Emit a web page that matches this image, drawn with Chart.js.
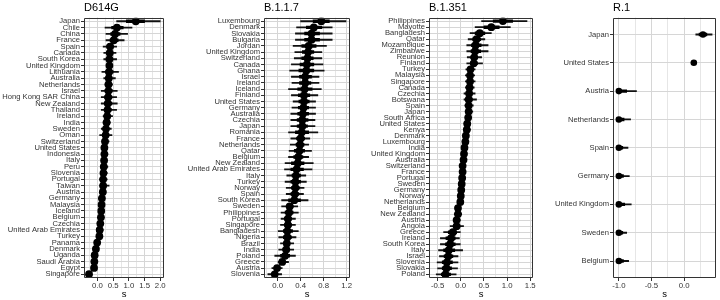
<!DOCTYPE html>
<html>
<head>
<meta charset="utf-8">
<script src="https://cdn.jsdelivr.net/npm/chart.js@4.4.1/dist/chart.umd.min.js"></script>
<style>
  html, body { margin: 0; padding: 0; background: #fff; }
  #wrap { position: relative; width: 720px; height: 300px; overflow: hidden; }
  canvas { position: absolute; top: 0; }
</style>
</head>
<body>
<div id="wrap">
  <canvas id="d614g" width="168" height="300" style="left:0px"></canvas>
  <canvas id="b117" width="186" height="300" style="left:168px"></canvas>
  <canvas id="b1351" width="183" height="300" style="left:354px"></canvas>
  <canvas id="r1" width="183" height="300" style="left:537px"></canvas>
</div>
<script>
// D614G
const d614gCountries = ['Japan', 'Chile', 'China', 'France', 'Spain', 'Canada', 'South Korea', 'United Kingdom', 'Lithuania', 'Australia', 'Netherlands', 'Israel', 'Hong Kong SAR China', 'New Zealand', 'Thailand', 'Ireland', 'India', 'Sweden', 'Oman', 'Switzerland', 'United States', 'Indonesia', 'Italy', 'Peru', 'Slovenia', 'Portugal', 'Taiwan', 'Austria', 'Germany', 'Malaysia', 'Iceland', 'Belgium', 'Czechia', 'United Arab Emirates', 'Turkey', 'Panama', 'Denmark', 'Uganda', 'Saudi Arabia', 'Egypt', 'Singapore'];
const d614gEst = [1.22, 0.62, 0.56, 0.52, 0.40, 0.39, 0.38, 0.38, 0.37, 0.36, 0.35, 0.35, 0.34, 0.33, 0.32, 0.31, 0.29, 0.27, 0.26, 0.24, 0.22, 0.22, 0.21, 0.20, 0.19, 0.18, 0.18, 0.17, 0.14, 0.13, 0.12, 0.11, 0.09, 0.07, 0.06, -0.01, -0.05, -0.09, -0.10, -0.11, -0.27];
const d614gLo = [0.61, 0.24, 0.27, 0.27, 0.18, 0.20, 0.20, 0.29, 0.14, 0.20, 0.24, 0.12, 0.12, 0.12, 0.12, 0.18, 0.18, 0.12, 0.07, 0.14, 0.16, 0.12, 0.14, 0.10, 0.10, 0.07, 0.07, 0.07, 0.07, 0.05, 0.03, 0.03, 0.01, -0.01, -0.01, -0.10, -0.12, -0.16, -0.16, -0.16, -0.33];
const d614gHi = [2.00, 1.10, 0.96, 0.85, 0.61, 0.59, 0.61, 0.48, 0.67, 0.57, 0.48, 0.63, 0.61, 0.63, 0.61, 0.48, 0.41, 0.44, 0.46, 0.37, 0.29, 0.33, 0.31, 0.33, 0.31, 0.31, 0.37, 0.27, 0.20, 0.22, 0.20, 0.18, 0.16, 0.18, 0.16, 0.07, 0.03, -0.01, -0.03, -0.03, -0.20];
const d614gLoIn = [0.92, 0.45, 0.42, 0.40, 0.30, 0.30, 0.29, 0.34, 0.26, 0.28, 0.30, 0.24, 0.23, 0.22, 0.22, 0.25, 0.24, 0.20, 0.17, 0.19, 0.19, 0.17, 0.17, 0.15, 0.14, 0.13, 0.12, 0.12, 0.11, 0.09, 0.08, 0.07, 0.05, 0.03, 0.02, -0.05, -0.09, -0.12, -0.13, -0.14, -0.30];
const d614gHiIn = [1.50, 0.82, 0.72, 0.66, 0.50, 0.48, 0.48, 0.42, 0.50, 0.45, 0.41, 0.47, 0.46, 0.46, 0.44, 0.38, 0.35, 0.35, 0.36, 0.30, 0.25, 0.27, 0.25, 0.26, 0.24, 0.24, 0.26, 0.22, 0.17, 0.17, 0.16, 0.15, 0.13, 0.12, 0.11, 0.03, -0.01, -0.05, -0.07, -0.07, -0.24];
const d614gTicks = [0, 0.5, 1, 1.5, 2];

// B.1.1.7
const b117Countries = ['Luxembourg', 'Denmark', 'Slovakia', 'Bulgaria', 'Jordan', 'United Kingdom', 'Switzerland', 'Canada', 'Ghana', 'Israel', 'Ireland', 'Iceland', 'Finland', 'United States', 'Germany', 'Australia', 'Czechia', 'Japan', 'Romania', 'France', 'Netherlands', 'Qatar', 'Belgium', 'New Zealand', 'United Arab Emirates', 'Italy', 'Turkey', 'Norway', 'Spain', 'South Korea', 'Sweden', 'Philippines', 'Portugal', 'Singapore', 'Bangladesh', 'Nigeria', 'Brazil', 'India', 'Poland', 'Greece', 'Austria', 'Slovenia'];
const b117Est = [0.76, 0.63, 0.59, 0.59, 0.54, 0.53, 0.52, 0.51, 0.50, 0.48, 0.48, 0.47, 0.46, 0.46, 0.45, 0.44, 0.43, 0.43, 0.42, 0.40, 0.39, 0.38, 0.36, 0.35, 0.33, 0.32, 0.31, 0.31, 0.30, 0.29, 0.21, 0.20, 0.18, 0.18, 0.17, 0.17, 0.16, 0.15, 0.13, 0.08, -0.01, -0.05];
const b117Lo = [0.40, 0.33, 0.31, 0.31, 0.27, 0.30, 0.29, 0.24, 0.21, 0.24, 0.25, 0.19, 0.24, 0.27, 0.25, 0.23, 0.23, 0.23, 0.19, 0.23, 0.22, 0.20, 0.19, 0.13, 0.12, 0.16, 0.13, 0.15, 0.15, 0.07, 0.07, 0.06, 0.06, 0.05, 0.01, 0.02, 0.05, 0.02, -0.05, 0.00, -0.10, -0.17];
const b117Hi = [1.19, 0.95, 0.95, 0.95, 0.85, 0.77, 0.77, 0.79, 0.81, 0.72, 0.72, 0.76, 0.70, 0.66, 0.66, 0.66, 0.65, 0.65, 0.70, 0.56, 0.54, 0.59, 0.54, 0.62, 0.60, 0.49, 0.50, 0.46, 0.45, 0.53, 0.35, 0.36, 0.31, 0.31, 0.36, 0.32, 0.28, 0.28, 0.31, 0.19, 0.08, 0.07];
const b117LoIn = [0.62, 0.50, 0.47, 0.47, 0.42, 0.43, 0.42, 0.39, 0.37, 0.38, 0.38, 0.35, 0.36, 0.37, 0.36, 0.35, 0.34, 0.34, 0.31, 0.33, 0.32, 0.29, 0.28, 0.24, 0.23, 0.25, 0.23, 0.24, 0.23, 0.19, 0.15, 0.13, 0.12, 0.12, 0.10, 0.10, 0.11, 0.09, 0.05, 0.04, -0.05, -0.10];
const b117HiIn = [0.90, 0.77, 0.73, 0.73, 0.67, 0.63, 0.62, 0.63, 0.63, 0.59, 0.58, 0.60, 0.56, 0.55, 0.54, 0.54, 0.53, 0.52, 0.54, 0.47, 0.46, 0.47, 0.44, 0.46, 0.45, 0.40, 0.40, 0.38, 0.37, 0.40, 0.27, 0.27, 0.24, 0.24, 0.26, 0.24, 0.21, 0.21, 0.21, 0.13, 0.03, 0.00];
const b117Ticks = [0, 0.4, 0.8, 1.2];

// B.1.351
const b1351Countries = ['Philippines', 'Mayotte', 'Bangladesh', 'Qatar', 'Mozambique', 'Zimbabwe', 'Reunion', 'Finland', 'Turkey', 'Malaysia', 'Singapore', 'Canada', 'Czechia', 'Botswana', 'Spain', 'Japan', 'South Africa', 'United States', 'Kenya', 'Denmark', 'Luxembourg', 'India', 'United Kingdom', 'Australia', 'Switzerland', 'France', 'Portugal', 'Sweden', 'Germany', 'Norway', 'Netherlands', 'Belgium', 'New Zealand', 'Austria', 'Angola', 'Greece', 'Ireland', 'South Korea', 'Italy', 'Israel', 'Slovenia', 'Slovakia', 'Poland'];
const b1351Est = [0.91, 0.66, 0.41, 0.34, 0.32, 0.31, 0.29, 0.28, 0.21, 0.20, 0.20, 0.19, 0.18, 0.17, 0.17, 0.17, 0.16, 0.14, 0.13, 0.11, 0.10, 0.08, 0.07, 0.06, 0.04, 0.04, 0.03, 0.02, 0.01, 0.00, -0.01, -0.06, -0.06, -0.09, -0.09, -0.17, -0.21, -0.23, -0.26, -0.27, -0.30, -0.31, -0.33];
const b1351Lo = [0.45, 0.31, 0.20, 0.16, 0.13, 0.13, 0.14, 0.13, 0.11, 0.10, 0.10, 0.10, 0.07, 0.07, 0.09, 0.10, 0.11, 0.07, 0.06, 0.07, 0.04, 0.03, 0.04, 0.00, 0.00, -0.01, -0.03, -0.03, -0.04, -0.06, -0.06, -0.10, -0.14, -0.14, -0.23, -0.37, -0.44, -0.44, -0.48, -0.46, -0.51, -0.50, -0.53];
const b1351Hi = [1.43, 1.07, 0.66, 0.52, 0.59, 0.59, 0.45, 0.47, 0.31, 0.30, 0.31, 0.29, 0.31, 0.34, 0.27, 0.26, 0.20, 0.20, 0.21, 0.16, 0.16, 0.13, 0.10, 0.11, 0.10, 0.10, 0.09, 0.07, 0.06, 0.06, 0.04, -0.01, 0.02, -0.01, 0.06, -0.01, -0.03, 0.00, 0.04, -0.06, -0.06, -0.07, -0.10];
const b1351LoIn = [0.70, 0.50, 0.31, 0.26, 0.23, 0.22, 0.22, 0.21, 0.16, 0.15, 0.15, 0.14, 0.13, 0.12, 0.13, 0.13, 0.14, 0.11, 0.10, 0.09, 0.07, 0.05, 0.06, 0.03, 0.02, 0.01, 0.00, -0.01, -0.02, -0.03, -0.04, -0.08, -0.10, -0.11, -0.16, -0.27, -0.32, -0.33, -0.37, -0.36, -0.40, -0.40, -0.42];
const b1351HiIn = [1.12, 0.83, 0.52, 0.43, 0.44, 0.43, 0.36, 0.36, 0.26, 0.25, 0.25, 0.24, 0.24, 0.25, 0.22, 0.21, 0.18, 0.17, 0.17, 0.13, 0.13, 0.10, 0.08, 0.09, 0.07, 0.07, 0.06, 0.05, 0.03, 0.03, 0.02, -0.04, -0.02, -0.06, -0.02, -0.09, -0.12, -0.12, -0.13, -0.17, -0.18, -0.20, -0.22];
const b1351Ticks = [-0.5, 0, 0.5, 1, 1.5];

// R.1
const r1Countries = ['Japan', 'United States', 'Austria', 'Netherlands', 'Spain', 'Germany', 'United Kingdom', 'Sweden', 'Belgium'];
const r1Est = [0.29, 0.15, -1.0, -1.0, -1.0, -1.0, -1.0, -1.0, -1.0];
const r1Lo = [0.18, 0.11, -1.0, -1.0, -1.0, -1.0, -1.0, -1.0, -1.0];
const r1Hi = [0.43, 0.19, -0.73, -0.82, -0.86, -0.84, -0.81, -0.88, -0.85];
const r1LoIn = [0.23, 0.13, -1.0, -1.0, -1.0, -1.0, -1.0, -1.0, -1.0];
const r1HiIn = [0.35, 0.17, -0.88, -0.92, -0.94, -0.93, -0.91, -0.94, -0.93];
const r1Ticks = [-1, -0.5, 0];

Chart.defaults.font.family = "'Liberation Sans', Arial, sans-serif";
Chart.defaults.color = '#333333';

const GRID = '#d6d6d6';
const GRID_MINOR = '#e6e6e6';
const FRAME = '#333333';

// panel frame like ggplot theme_bw
const panelBorder = {
    id: 'panelBorder',
    afterDraw(chart) {
        const { ctx, chartArea: a } = chart;
        const l = Math.round(a.left);
        const t = Math.round(a.top);
        const r = Math.round(a.right);
        const b = Math.round(a.bottom);
        ctx.save();
        ctx.strokeStyle = FRAME;
        ctx.lineWidth = 1;
        ctx.beginPath();
        ctx.rect(l + 0.5, t + 0.5, r - l - 1, b - t - 1);
        ctx.stroke();
        ctx.restore();
    }
};

const createPanel = (id, title, names, est, lo, hi, loIn, hiIn, ticks, xMin, xMax, axisW, padRight, dotR) => {
    const rows = names.map((n, i) => i);
    const step = ticks[1] - ticks[0];

    return new Chart(document.getElementById(id), {
        type: 'bar',
        data: {
            datasets: [
                {
                    type: 'scatter',
                    data: rows.map(i => ({ x: est[i], y: i })),
                    backgroundColor: '#000',
                    borderColor: '#000',
                    pointRadius: dotR,
                    pointBorderWidth: 0,
                    order: 0
                },
                {
                    data: rows.map(i => ({ x: [loIn[i], hiIn[i]], y: i })),
                    backgroundColor: '#000',
                    barThickness: 2.8,
                    grouped: false,
                    order: 1
                },
                {
                    data: rows.map(i => ({ x: [lo[i], hi[i]], y: i })),
                    backgroundColor: '#111',
                    barThickness: 1.2,
                    grouped: false,
                    order: 2
                }
            ]
        },
        options: {
            indexAxis: 'y',
            responsive: false,
            devicePixelRatio: 1,
            animation: false,
            layout: { padding: { left: 0, right: padRight, top: 0, bottom: 0 } },
            plugins: {
                legend: { display: false },
                tooltip: { enabled: false },
                title: {
                    display: true,
                    text: title,
                    align: 'start',
                    fullSize: false,
                    color: '#000',
                    font: { size: 11, weight: 'normal' },
                    padding: { top: 1, bottom: 3.3 }
                }
            },
            scales: {
                x: {
                    type: 'linear',
                    min: xMin,
                    max: xMax,
                    offset: false,
                    afterBuildTicks: (axis) => {
                        const list = ticks.map(v => ({ value: v }));
                        for (let v = ticks[0] - step / 2; v >= xMin; v -= step) list.push({ value: v, minor: true });
                        for (let k = 0; k < ticks.length; k++) {
                            const v = ticks[k] + step / 2;
                            if (v <= xMax) list.push({ value: v, minor: true });
                        }
                        list.sort((a, b) => a.value - b.value);
                        axis.ticks = list;
                    },
                    afterFit: (axis) => { axis.height = 22; },
                    ticks: {
                        autoSkip: false,
                        maxRotation: 0,
                        padding: 0,
                        font: { size: 7.8 },
                        color: '#333',
                        callback: (value, index, list) => (list[index].minor ? '' : value.toFixed(1))
                    },
                    grid: {
                        offset: false,
                        color: (c) => (c.tick && c.tick.minor ? GRID_MINOR : GRID),
                        lineWidth: 1,
                        tickLength: 3,
                        tickColor: (c) => (c.tick && c.tick.minor ? 'rgba(0,0,0,0)' : FRAME)
                    },
                    border: { display: false },
                    title: {
                        display: true,
                        text: 's',
                        color: '#000',
                        font: { size: 9.5 },
                        padding: { top: 0, bottom: 0 }
                    }
                },
                y: {
                    type: 'linear',
                    reverse: true,
                    offset: false,
                    min: -0.6,
                    max: names.length - 0.4,
                    afterBuildTicks: (axis) => { axis.ticks = rows.map(v => ({ value: v })); },
                    afterFit: (axis) => { axis.width = axisW; },
                    ticks: {
                        autoSkip: false,
                        padding: 1,
                        font: { size: 7.6 },
                        color: '#333',
                        callback: (value) => names[value]
                    },
                    grid: {
                        offset: false,
                        color: GRID,
                        lineWidth: 1,
                        tickLength: 3,
                        tickColor: FRAME
                    },
                    border: { display: false }
                }
            }
        },
        plugins: [panelBorder]
    });
};

createPanel('d614g', 'D614G', d614gCountries, d614gEst, d614gLo, d614gHi, d614gLoIn, d614gHiIn, d614gTicks, -0.43, 2.12, 84, 4, 3.9);
createPanel('b117', 'B.1.1.7', b117Countries, b117Est, b117Lo, b117Hi, b117LoIn, b117HiIn, b117Ticks, -0.237, 1.26, 96, 4, 3.9);
createPanel('b1351', 'B.1.351', b1351Countries, b1351Est, b1351Lo, b1351Hi, b1351LoIn, b1351HiIn, b1351Ticks, -0.686, 1.56, 75, 3, 3.9);
createPanel('r1', 'R.1', r1Countries, r1Est, r1Lo, r1Hi, r1LoIn, r1HiIn, r1Ticks, -1.09, 0.49, 76, 2, 3.3);
</script>
</body>
</html>
